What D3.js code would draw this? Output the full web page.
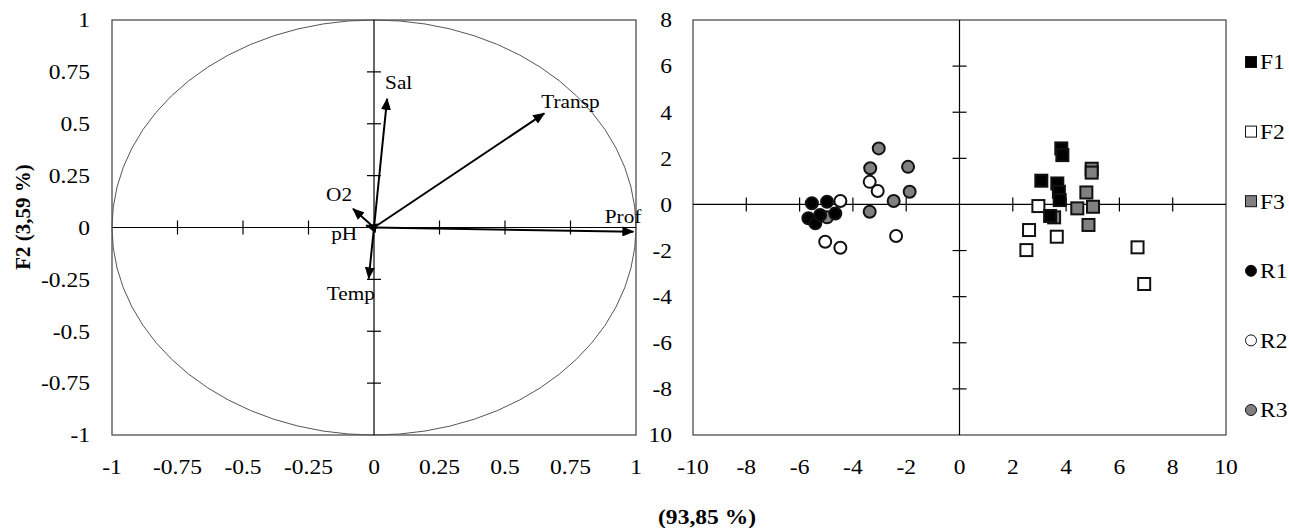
<!DOCTYPE html>
<html><head><meta charset="utf-8">
<script src="https://cdn.jsdelivr.net/npm/d3@7"></script>
<style>body{margin:0;background:#fff}svg{display:block}text{font-family:"Liberation Serif","Times New Roman",serif;fill:#000}</style>
</head><body><svg id="c" width="1289" height="528"></svg>
<script>
// ---- data ----
const varNames = ["Prof","Transp","Sal","O2","pH","Temp"];
const varF1 = [0.99, 0.65, 0.05, -0.08, -0.03, -0.02];
const varF2 = [-0.02, 0.55, 0.62, 0.09, 0.01, -0.245];
const leftTicks = [-1,-0.75,-0.5,-0.25,0,0.25,0.5,0.75,1];
const rightXTicks = [-10,-8,-6,-4,-2,0,2,4,6,8,10];
const rightYTicks = [8,6,4,2,0,-2,-4,-6,-8,-10];
const rightYLabels = ["8","6","4","2","0","-2","-4","-6","-8","10"];
const seriesNames = ["F1","F2","F3","R1","R2","R3"];
const F1 = [[3.82,2.43],[3.86,2.14],[3.07,1.03],[3.67,0.91],[3.73,0.55],[3.76,0.19],[3.40,-0.5]];
const F2 = [[2.96,-0.07],[2.61,-1.11],[2.51,-1.98],[3.65,-1.4],[6.68,-1.86],[6.93,-3.45]];
const F3 = [[4.96,1.55],[4.96,1.38],[4.76,0.52],[4.42,-0.17],[5.01,-0.1],[3.55,-0.56],[4.84,-0.89]];
const R1 = [[-5.54,0.05],[-4.97,0.12],[-5.67,-0.6],[-5.41,-0.82],[-4.66,-0.39],[-5.23,-0.46]];
const R2 = [[-3.37,0.98],[-3.07,0.58],[-4.47,0.15],[-5.04,-1.62],[-4.47,-1.88],[-2.38,-1.37]];
const R3 = [[-3.03,2.43],[-3.35,1.57],[-1.93,1.63],[-1.87,0.55],[-2.47,0.15],[-3.37,-0.32],[-4.97,-0.56]];
const xTitle = "(93,85 %)";
const yTitle = "F2 (3,59 %)";

// ---- drawing ----
const svg = d3.select("#c");
const SX = 1.12, FS = 21;
function txt(x, y, s, anchor, opts={}) {
  const g = svg.append("g").attr("transform", `translate(${x},${y}) scale(${SX},1)`);
  const t = g.append("text").text(s).attr("text-anchor", anchor||"start")
    .style("font-size", (opts.size||FS)+"px");
  if (opts.bold) t.style("font-weight","bold");
  if (opts.dy) t.attr("dy", opts.dy);
  return t;
}

// Left plot
const xL = d3.scaleLinear().domain([-1,1]).range([112,636]);
const yL = d3.scaleLinear().domain([-1,1]).range([435,20]);
svg.append("rect").attr("x",xL(-1)).attr("y",yL(1)).attr("width",xL(1)-xL(-1)).attr("height",yL(-1)-yL(1))
  .attr("fill","none").attr("stroke","#404040").attr("stroke-width",1.2);
svg.append("ellipse").attr("cx",xL(0)).attr("cy",yL(0)).attr("rx",xL(1)-xL(0)).attr("ry",yL(0)-yL(1))
  .attr("fill","none").attr("stroke","#555").attr("stroke-width",1);
svg.append("line").attr("x1",xL(-1)).attr("x2",xL(1)).attr("y1",yL(0)).attr("y2",yL(0)).attr("stroke","#000").attr("stroke-width",1.2);
svg.append("line").attr("x1",xL(0)).attr("x2",xL(0)).attr("y1",yL(1)).attr("y2",yL(-1)).attr("stroke","#000").attr("stroke-width",1.2);
leftTicks.filter(t=>Math.abs(t)<1 && t!==0).forEach(t=>{
  svg.append("line").attr("x1",xL(t)).attr("x2",xL(t)).attr("y1",yL(0)-7).attr("y2",yL(0)+7).attr("stroke","#000").attr("stroke-width",1.2);
  svg.append("line").attr("x1",xL(0)-7).attr("x2",xL(0)+7).attr("y1",yL(t)).attr("y2",yL(t)).attr("stroke","#000").attr("stroke-width",1.2);
});
leftTicks.forEach(t=>{
  txt(90, yL(t), String(t), "end", {dy:"0.35em"});
  txt(xL(t), 467, String(t), "middle", {dy:"0.35em"});
});
svg.append("defs").append("marker").attr("id","ah").attr("markerUnits","userSpaceOnUse")
  .attr("markerWidth",12).attr("markerHeight",10).attr("refX",11).attr("refY",5).attr("orient","auto")
  .append("path").attr("d","M0,0L12,5L0,10Z").attr("fill","#000");
const labelOff = {Prof:[8,-9,"end"],Transp:[-3,-5,"start"],Sal:[-2,-10,"start"],O2:[-1,-8,"end"],pH:[-9,15,"end"],Temp:[-18,22,"middle"]};
varNames.forEach((n,i)=>{
  svg.append("line").attr("x1",xL(0)).attr("y1",yL(0)).attr("x2",xL(varF1[i])).attr("y2",yL(varF2[i]))
    .attr("stroke","#000").attr("stroke-width",2).attr("marker-end","url(#ah)");
  const o = labelOff[n];
  txt(xL(varF1[i])+o[0], yL(varF2[i])+o[1], n, o[2], {size:19});
});
// y title
svg.append("text").attr("transform",`translate(30,217) rotate(-90)`).attr("text-anchor","middle")
  .style("font-size","21px").style("font-weight","bold").text(yTitle);

// Right plot
const xR = d3.scaleLinear().domain([-10,10]).range([693,1226]);
const yR = d3.scaleLinear().domain([-10,8]).range([435,20]);
svg.append("rect").attr("x",xR(-10)).attr("y",yR(8)).attr("width",xR(10)-xR(-10)).attr("height",yR(-10)-yR(8))
  .attr("fill","none").attr("stroke","#404040").attr("stroke-width",1.2);
svg.append("line").attr("x1",xR(-10)).attr("x2",xR(10)).attr("y1",yR(0)).attr("y2",yR(0)).attr("stroke","#000").attr("stroke-width",1.2);
svg.append("line").attr("x1",xR(0)).attr("x2",xR(0)).attr("y1",yR(8)).attr("y2",yR(-10)).attr("stroke","#000").attr("stroke-width",1.2);
rightXTicks.filter(t=>Math.abs(t)<10 && t!==0).forEach(t=>{
  svg.append("line").attr("x1",xR(t)).attr("x2",xR(t)).attr("y1",yR(0)-7).attr("y2",yR(0)+7).attr("stroke","#000").attr("stroke-width",1.2);
});
rightYTicks.filter(t=>t>-10 && t<8 && t!==0).forEach(t=>{
  svg.append("line").attr("x1",xR(0)-7).attr("x2",xR(0)+7).attr("y1",yR(t)).attr("y2",yR(t)).attr("stroke","#000").attr("stroke-width",1.2);
});
rightXTicks.forEach(t=> txt(xR(t), 467, String(t), "middle", {dy:"0.35em"}));
rightYTicks.forEach((t,i)=> txt(672, yR(t), rightYLabels[i], "end", {dy:"0.35em"}));

const styles = {
  F1:{shape:"sq",fill:"#000"}, F2:{shape:"sq",fill:"#fff"}, F3:{shape:"sq",fill:"#808080"},
  R1:{shape:"ci",fill:"#000"}, R2:{shape:"ci",fill:"#fff"}, R3:{shape:"ci",fill:"#808080"}
};
const seriesData = {F1,F2,F3,R1,R2,R3};
function mark(g, shape, fill, x, y, s, sw) {
  if (shape==="sq") g.append("rect").attr("x",x-s/2).attr("y",y-s/2).attr("width",s).attr("height",s)
      .attr("fill",fill).attr("stroke","#111").attr("stroke-width",sw);
  else g.append("circle").attr("cx",x).attr("cy",y).attr("r",s/2).attr("fill",fill).attr("stroke","#111").attr("stroke-width",sw);
}
const pts = svg.append("g");
["R3","R2","R1","F3","F2","F1"].forEach(n=>{
  const st = styles[n];
  seriesData[n].forEach(d=> mark(pts, st.shape, st.fill, xR(d[0]), yR(d[1]), 12, 2));
});
// legend
seriesNames.forEach((n,i)=>{
  const y = 62 + i*69.6;
  const st = styles[n];
  mark(svg, st.shape, st.fill, 1251, y, 11, 1);
  txt(1260, y, n, "start", {dy:"0.35em"});
});
// x title
txt(707, 517, xTitle, "middle", {bold:true, dy:"0.35em"});
</script></body></html>
